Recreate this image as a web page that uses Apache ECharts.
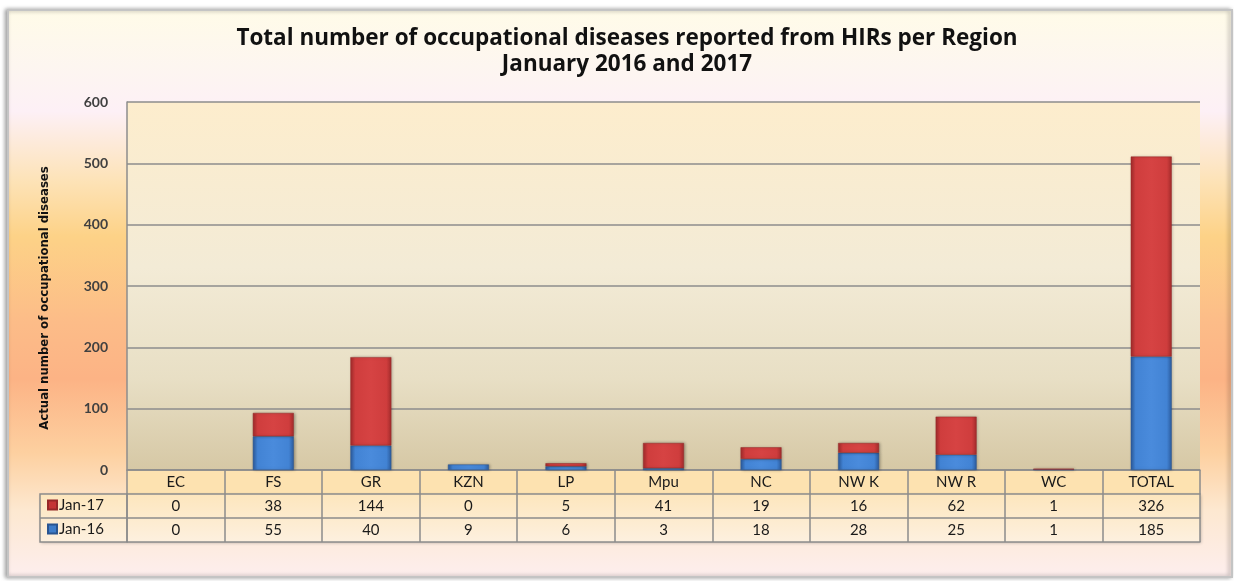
<!DOCTYPE html>
<html>
<head>
<meta charset="utf-8">
<script src="https://cdn.jsdelivr.net/npm/echarts@6/dist/echarts.min.js"></script>
<style>html,body{margin:0;padding:0;background:#fff;}#c{width:1234px;height:581px;}</style>
</head>
<body>
<div id="c"></div>
<script>
const categories = ['EC', 'FS', 'GR', 'KZN', 'LP', 'Mpu', 'NC', 'NW K', 'NW R', 'WC', 'TOTAL'];
const jan17 = [0, 38, 144, 0, 5, 41, 19, 16, 62, 1, 326];
const jan16 = [0, 55, 40, 9, 6, 3, 18, 28, 25, 1, 185];
const yTicks = { min: 0, max: 600, interval: 100 };
const titleLines = ['Total number of occupational diseases reported from HIRs per Region', 'January 2016 and 2017'];
const yName = 'Actual number of occupational diseases';

const FONT = 'Lato, "Open Sans", sans-serif';
const LINE = '#8c8c8c';
const G = { left: 127, right: 1200, top: 102, bottom: 470 };
const ROW = 24;

function grad(v, stops) {
  return { type: 'linear', x: 0, y: 0, x2: v ? 0 : 1, y2: v ? 1 : 0,
    colorStops: stops.map(s => ({ offset: s[0], color: s[1] })) };
}
const blue = grad(false, [[0, '#2c5c9e'], [0.12, '#4283d4'], [0.5, '#4a8bdc'], [0.88, '#4283d4'], [1, '#2c5c9e']]);
const red = grad(false, [[0, '#a42c2c'], [0.12, '#cf3d3d'], [0.5, '#d64343'], [0.88, '#cf3d3d'], [1, '#a42c2c']]);
const barData = arr => arr.map(v => (v === 0 ? '-' : v));

const chart = echarts.init(document.getElementById('c'), null, { renderer: 'canvas' });

const tableAxis = (offset, values, showLabel) => ({
  type: 'category', data: categories, position: 'bottom', offset: offset,
  axisLine: { show: true, lineStyle: { color: LINE, width: 1.5 } },
  axisTick: { show: false },
  axisLabel: { show: showLabel, margin: 5, fontFamily: FONT, fontSize: 15, color: '#1a1a1a',
    interval: 0, formatter: (v, i) => values ? String(values[i]) : v },
  splitLine: { show: false }
});

chart.setOption({
  animation: false,
  title: {
    text: titleLines.join('\n'), left: 622, top: 21, textAlign: 'center',
    textStyle: { fontFamily: '"Open Sans", Lato, sans-serif', fontSize: 22.5, fontWeight: 'bold', color: '#111', lineHeight: 26 }
  },
  legend: {
    data: [{ name: 'Jan-17', itemStyle: { color: '#c43535' } }, { name: 'Jan-16', itemStyle: { color: '#3d7cc9' } }],
    orient: 'vertical', left: 47, top: 497, icon: 'rect', itemWidth: 9, itemHeight: 9, itemGap: 8,
    padding: 0, selectedMode: false,
    textStyle: { fontFamily: FONT, fontSize: 15, color: '#1a1a1a', lineHeight: 16, padding: [0, 0, 0, -3] }
  },
  grid: {
    left: G.left, right: 1234 - G.right, top: G.top, bottom: 581 - G.bottom,
    show: true, borderWidth: 0,
    backgroundColor: grad(true, [[0, '#fdedcd'], [0.45, '#f3ebd6'], [0.75, '#e8dfc5'], [1, '#d6c8a5']])
  },
  xAxis: [
    {
      type: 'category', data: categories, position: 'bottom', offset: 0,
      axisLine: { show: true, lineStyle: { color: LINE, width: 1.5 } },
      axisTick: { show: true, alignWithLabel: false, interval: 0, length: ROW * 3, lineStyle: { color: LINE, width: 1.5 } },
      axisLabel: { margin: 5, fontFamily: FONT, fontSize: 15, color: '#1a1a1a', interval: 0 },
      splitLine: { show: false }
    },
    tableAxis(ROW, jan17, true),
    tableAxis(ROW * 2, jan16, true),
    tableAxis(ROW * 3, null, false)
  ],
  yAxis: {
    type: 'value', min: yTicks.min, max: yTicks.max, interval: yTicks.interval,
    axisLine: { show: true, lineStyle: { color: LINE, width: 1.5 } },
    axisTick: { show: false },
    axisLabel: { margin: 19, fontFamily: FONT, fontSize: 14, fontWeight: 'bold', color: '#404040' },
    splitLine: { show: true, lineStyle: { color: LINE, width: 1.5 } }
  },
  series: [
    {
      name: 'Jan-16', type: 'bar', stack: 'all', data: barData(jan16), barWidth: '42%',
      itemStyle: { color: blue, borderColor: '#2a5590', borderWidth: 0.5, shadowBlur: 3, shadowColor: 'rgba(0,0,0,0.3)', shadowOffsetX: 1 }
    },
    {
      name: 'Jan-17', type: 'bar', stack: 'all', data: barData(jan17), barWidth: '42%',
      itemStyle: { color: red, borderColor: '#962828', borderWidth: 0.5, shadowBlur: 3, shadowColor: 'rgba(0,0,0,0.3)', shadowOffsetX: 1 }
    }
  ],
  graphic: [
    {
      type: 'rect', z: -20, silent: true,
      shape: { x: 8, y: 10, width: 1224, height: 567 },
      style: {
        fill: grad(true, [[0, '#fffbe8'], [0.1, '#fdf6f0'], [0.18, '#fdf0f6'], [0.3, '#fde3b8'], [0.4, '#fdd287'],
          [0.55, '#fcbc88'], [0.65, '#fcb385'], [0.78, '#fdd0a0'], [0.88, '#fde8d0'], [1, '#fdeeee']]),
        stroke: '#c4c4c4', lineWidth: 2, shadowBlur: 4, shadowColor: 'rgba(0,0,0,0.35)', shadowOffsetX: -2
      }
    },
    {
      type: 'rect', z: -19, silent: true,
      shape: { x: G.left, y: G.bottom, width: G.right - G.left, height: ROW },
      style: { fill: '#fde2b0' }
    },
    {
      type: 'rect', z: -19, silent: true,
      shape: { x: 40, y: G.bottom + ROW, width: G.right - 40, height: ROW * 2 },
      style: { fill: grad(true, [[0, '#fde6bd'], [1, '#fdf0df']]), shadowBlur: 3, shadowColor: 'rgba(0,0,0,0.25)', shadowOffsetX: 1, shadowOffsetY: 1 }
    },
    {
      type: 'rect', z: -18, silent: true,
      shape: { x: 40, y: G.bottom + ROW, width: G.left - 40, height: ROW * 2 },
      style: { fill: grad(true, [[0, '#fde6bd'], [1, '#fdf0df']]), stroke: LINE, lineWidth: 1.5 }
    },
    {
      type: 'line', silent: true,
      shape: { x1: 40, y1: G.bottom + ROW * 2, x2: G.left, y2: G.bottom + ROW * 2 },
      style: { stroke: LINE, lineWidth: 1.5 }
    },
    {
      type: 'text', silent: true, x: 45, y: 298, rotation: Math.PI / 2,
      style: {
        text: yName, fontFamily: '"Liberation Sans Narrow", "DejaVu Sans Condensed", sans-serif',
        fontSize: 13, fontWeight: 'bold', fill: '#111', align: 'center', verticalAlign: 'middle'
      }
    }
  ]
});
</script>
</body>
</html>
